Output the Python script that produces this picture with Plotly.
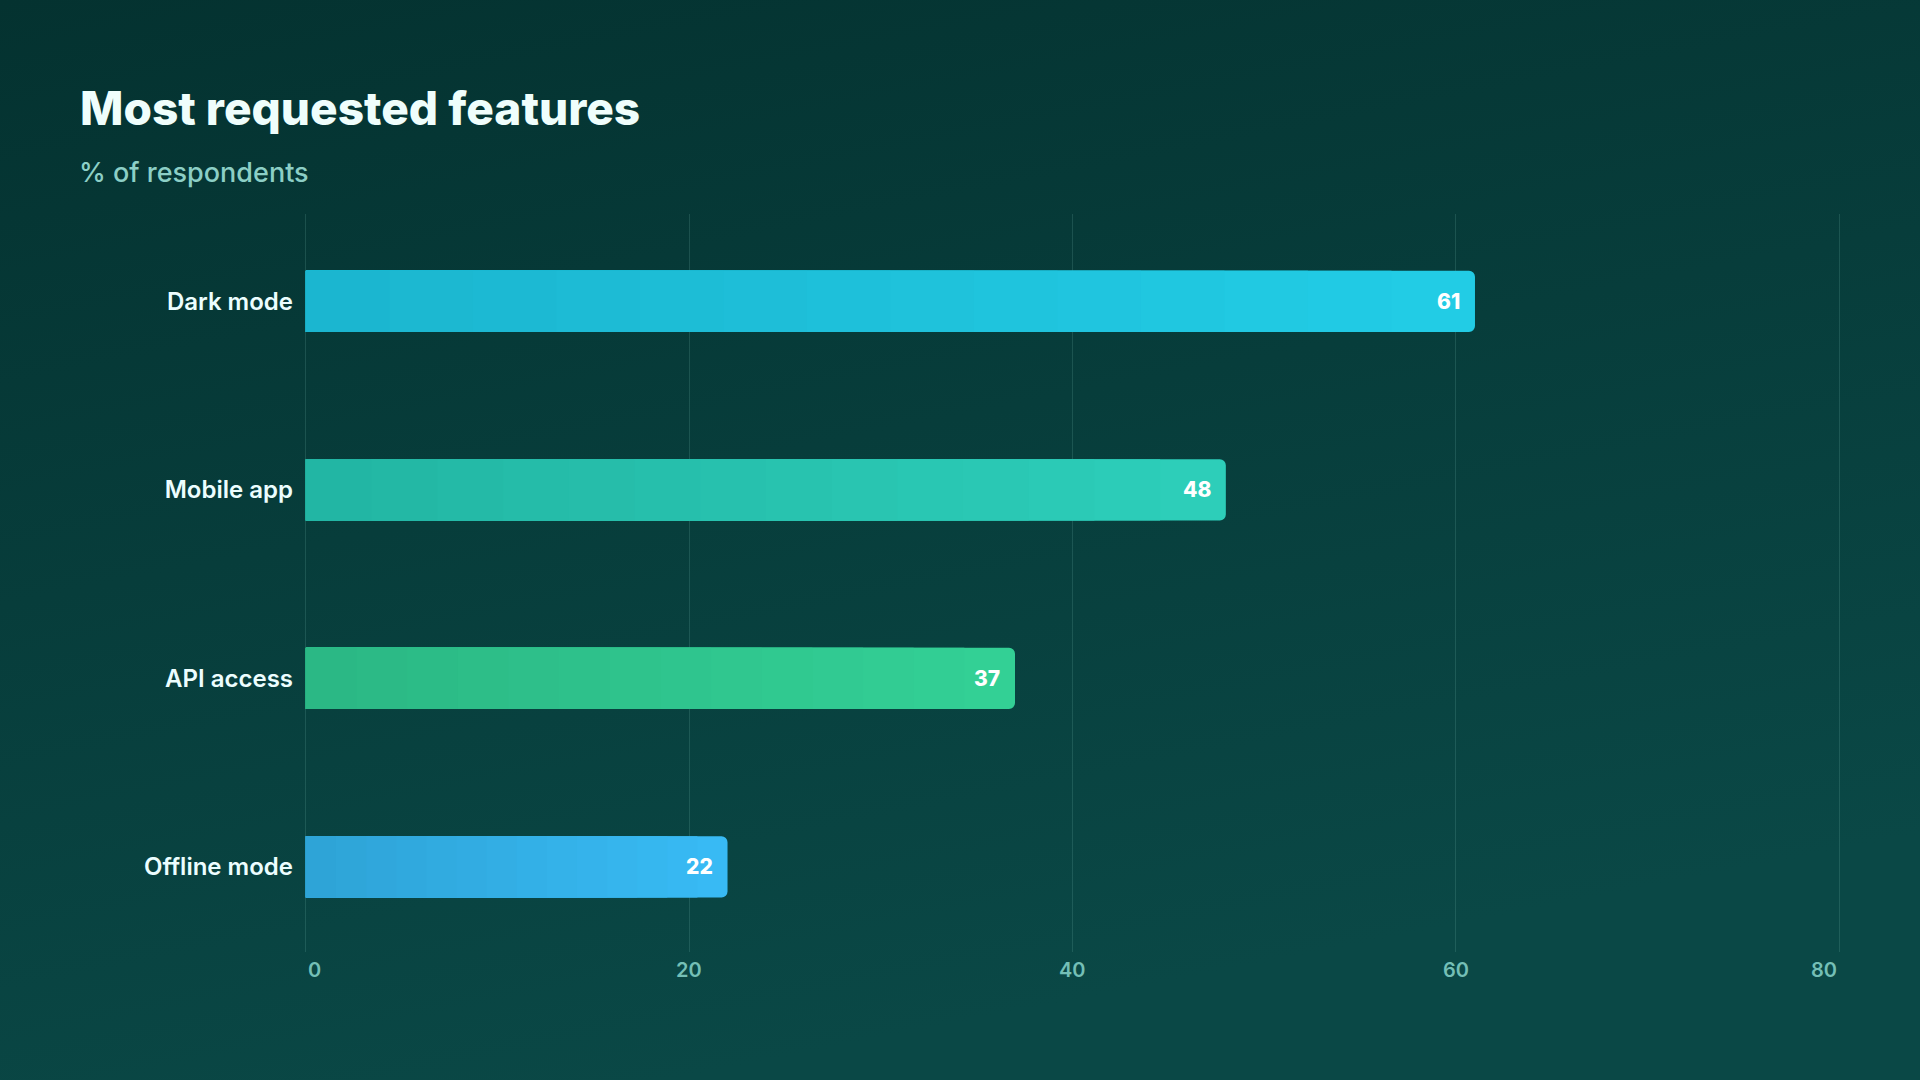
import base64
import plotly.graph_objs as go

features = ['Dark mode', 'Mobile app', 'API access', 'Offline mode']
share = [61, 48, 37, 22]
x_ticks = [0, 20, 40, 60, 80]

# bar gradients: darker at the base, full colour at the tip
color_start = ['#1bb5cf', '#22b5a3', '#2bb784', '#2ea3d6']
color_end = ['#22cde6', '#2dcfba', '#33d196', '#38bbf5']

W, H = 1920, 1080
L, R, T, B = 303, 78, 214, 128
plot_w = W - L - R
plot_h = H - T - B


def px(x):
    return (x - L) / plot_w


def py(y):
    return 1 - (y - T) / plot_h


def mix(c1, c2, t):
    a = [int(c1[i:i + 2], 16) for i in (1, 3, 5)]
    b = [int(c2[i:i + 2], 16) for i in (1, 3, 5)]
    return 'rgb(%d,%d,%d)' % tuple(round(a[i] + (b[i] - a[i]) * t) for i in range(3))


bg_svg = (
    '<svg xmlns="http://www.w3.org/2000/svg" width="1920" height="1080">'
    '<defs><linearGradient id="g" x1="0" y1="0" x2="0.35" y2="1">'
    '<stop offset="0" stop-color="#043230"/>'
    '<stop offset="1" stop-color="#0a4846"/>'
    '</linearGradient></defs>'
    '<rect width="1920" height="1080" fill="url(#g)"/></svg>'
)
bg_uri = 'data:image/svg+xml;base64,' + base64.b64encode(bg_svg.encode()).decode()

fig = go.Figure()

steps = 14
for k in range(steps, 0, -1):
    f = k / steps
    fig.add_trace(go.Bar(
        y=features,
        x=[v * f for v in share],
        orientation='h',
        marker=dict(color=[mix(s, e, f - 0.5 / steps) for s, e in zip(color_start, color_end)],
                    line=dict(width=0), cornerradius=6),
        hoverinfo='skip' if k < steps else None,
        showlegend=False,
    ))

annotations = []
for feat, v in zip(features, share):
    annotations.append(dict(x=v, y=feat, xref='x', yref='y', text=str(v), showarrow=False,
                            xanchor='right', xshift=-13,
                            font=dict(family='Inter', size=21, color='#ffffff', weight=800)))

for i, t in enumerate(x_ticks):
    anchor = 'left' if i == 0 else ('right' if i == len(x_ticks) - 1 else 'center')
    annotations.append(dict(x=t, y=py(970), xref='x', yref='paper', text=str(t), showarrow=False,
                            xanchor=anchor, yanchor='middle',
                            font=dict(family='Inter', size=20, color='#74bfb6', weight=600)))

annotations.append(dict(x=px(78), y=py(108), xref='paper', yref='paper', text='Most requested features',
                        showarrow=False, xanchor='left', yanchor='middle',
                        font=dict(family='Inter', size=46, color='#effefc', weight=800)))
annotations.append(dict(x=px(77), y=py(173), xref='paper', yref='paper', text='% of respondents',
                        showarrow=False, xanchor='left', yanchor='middle',
                        font=dict(family='Inter', size=27, color='#8ccfc6', weight=500)))

fig.update_layout(
    width=W, height=H,
    margin=dict(l=L, r=R, t=T, b=B),
    paper_bgcolor='#063b39',
    plot_bgcolor='rgba(0,0,0,0)',
    barmode='overlay',
    bargap=0.675,
    images=[dict(source=bg_uri, xref='paper', yref='paper', x=px(0), y=py(0),
                 sizex=W / plot_w, sizey=H / plot_h, sizing='stretch',
                 xanchor='left', yanchor='top', layer='below')],
    annotations=annotations,
    xaxis=dict(range=[-0.15, 80.15], tickvals=x_ticks, showticklabels=False, showgrid=True,
               gridcolor='rgba(140,210,200,0.16)', gridwidth=1, zeroline=False, showline=False,
               fixedrange=True),
    yaxis=dict(categoryorder='array', categoryarray=features, range=[3.452, -0.463],
               showgrid=False, zeroline=False, showline=False, ticks='', ticklabelstandoff=9,
               tickfont=dict(family='Inter', size=24, color='#ecfeff', weight=600)),
)

fig.write_html("out.html", config={'displayModeBar': False},
               post_script="document.body.style.margin='0';document.body.style.overflow='hidden';")
